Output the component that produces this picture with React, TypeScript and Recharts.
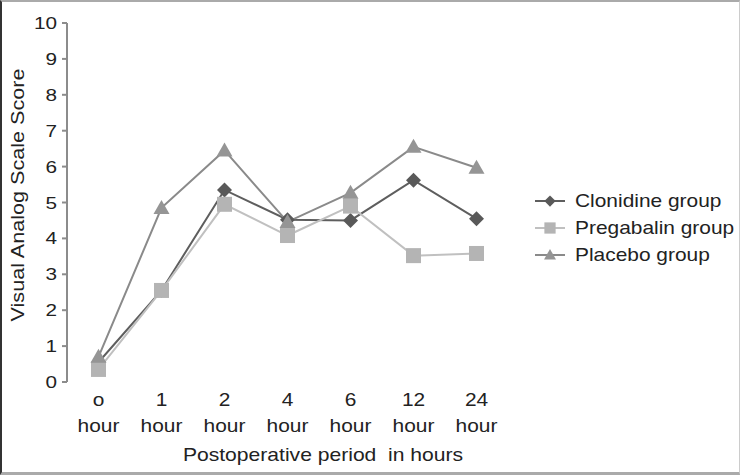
import React from 'react';
import { LineChart, Line, XAxis, YAxis } from 'recharts';

const hours = ['o', '1', '2', '4', '6', '12', '24'];
const clonidine = [0.55, 2.55, 5.35, 4.52, 4.5, 5.62, 4.55];
const pregabalin = [0.35, 2.55, 4.95, 4.08, 4.9, 3.52, 3.58];
const placebo = [0.7, 4.85, 6.45, 4.46, 5.27, 6.55, 5.97];
const yTicks = [0, 1, 2, 3, 4, 5, 6, 7, 8, 9, 10];

// points sit in the middle of each category slot
const data = hours.map((h, i) => ({
  x: i + 0.5,
  label: h,
  clonidine: clonidine[i],
  pregabalin: pregabalin[i],
  placebo: placebo[i],
}));

const FONT = '"Liberation Sans", Arial, sans-serif';
const AXIS = '#8c8c8c';
const TEXT = '#222';

const series = [
  { key: 'clonidine', name: 'Clonidine group', line: '#5e5e5e', fill: '#595959', shape: 'diamond' },
  { key: 'pregabalin', name: 'Pregabalin group', line: '#c0c0c0', fill: '#b4b4b4', shape: 'square' },
  { key: 'placebo', name: 'Placebo group', line: '#8a8a8a', fill: '#959595', shape: 'triangle' },
];

const marker = (shape: string, cx: number, cy: number, fill: string, s = 1) => {
  if (shape === 'diamond') {
    const r = 7.5 * s;
    return <path d={`M${cx},${cy - r}L${cx + r},${cy}L${cx},${cy + r}L${cx - r},${cy}Z`} fill={fill} />;
  }
  if (shape === 'square') {
    const r = 7.5 * s;
    return <rect x={cx - r} y={cy - r} width={2 * r} height={2 * r} fill={fill} />;
  }
  const w = 8 * s;
  return <path d={`M${cx},${cy - 8 * s}L${cx + w},${cy + 6 * s}L${cx - w},${cy + 6 * s}Z`} fill={fill} />;
};

const makeDot = (shape: string, fill: string) => (props: any) => {
  const { cx, cy, index } = props;
  return <g key={`${shape}-${index}`}>{marker(shape, cx, cy, fill)}</g>;
};

// the original text is stretched sideways, hence the scale
const HourTick = (props: any) => {
  const { x, y, payload } = props;
  const idx = Math.floor(payload.value);
  return (
    <g transform={`translate(${x},${y}) scale(1.13,1)`}>
      <text x={0} y={15.5} textAnchor="middle" fill={TEXT} fontSize={18.5} fontFamily={FONT}>
        {hours[idx]}
      </text>
      <text x={0} y={42} textAnchor="middle" fill={TEXT} fontSize={18.5} fontFamily={FONT}>
        hour
      </text>
    </g>
  );
};

const ScoreTick = (props: any) => {
  const { x, y, payload } = props;
  return (
    <g transform={`translate(${x},${y}) scale(1.22,1)`}>
      <text x={0} y={6} textAnchor="end" fill={TEXT} fontSize={17} fontFamily={FONT}>
        {payload.value}
      </text>
    </g>
  );
};

export default function App() {
  return (
    <div
      style={{
        position: 'absolute',
        left: 0,
        top: 0,
        width: 740,
        height: 475,
        background: '#fff',
        boxSizing: 'border-box',
        borderTop: '2px solid #aaa',
        borderLeft: '2px solid #333',
        borderRight: '1px solid #ccc',
        borderBottom: '3px solid #aaa',
        fontFamily: FONT,
      }}
    >
      <div style={{ position: 'absolute', left: -2, top: -2 }}>
        <LineChart width={740} height={475} data={data} margin={{ top: 23, right: 232, bottom: 33, left: 17 }}>
          <XAxis
            xAxisId="x"
            dataKey="x"
            type="number"
            domain={[0, 7]}
            ticks={[0, 1, 2, 3, 4, 5, 6, 7]}
            tick={false}
            height={0}
            stroke={AXIS}
            strokeWidth={2}
            tickSize={5}
          />
          <XAxis
            xAxisId="lab"
            dataKey="x"
            type="number"
            domain={[0, 7]}
            ticks={[0.5, 1.5, 2.5, 3.5, 4.5, 5.5, 6.5]}
            axisLine={false}
            tickLine={false}
            tick={<HourTick />}
            height={60}
            interval={0}
          />
          <YAxis
            type="number"
            domain={[0, 10]}
            ticks={yTicks}
            interval={0}
            width={50}
            stroke={AXIS}
            strokeWidth={2}
            tickSize={5}
            tickMargin={5}
            tick={<ScoreTick />}
          />
          {series.map((s) => (
            <Line
              key={s.key}
              xAxisId="x"
              dataKey={s.key}
              name={s.name}
              stroke={s.line}
              strokeWidth={2}
              dot={makeDot(s.shape, s.fill)}
              activeDot={false}
              isAnimationActive={false}
            />
          ))}
        </LineChart>
      </div>
      <div
        style={{
          position: 'absolute',
          left: 16,
          top: 193,
          transform: 'translate(-50%, -50%) rotate(-90deg) scaleX(1.2)',
          whiteSpace: 'nowrap',
          fontSize: 18,
          lineHeight: '20px',
          color: TEXT,
        }}
      >
        Visual Analog Scale Score
      </div>
      <div
        style={{
          position: 'absolute',
          left: 321,
          top: 443,
          transform: 'translateX(-50%) scaleX(1.11)',
          whiteSpace: 'pre',
          fontSize: 19,
          lineHeight: '20px',
          color: TEXT,
        }}
      >
        {'Postoperative period  in hours'}
      </div>
      <div style={{ position: 'absolute', left: 531, top: 185 }}>
        {series.map((s) => (
          <div key={s.key} style={{ display: 'flex', alignItems: 'center', height: 27 }}>
            <svg width={34} height={16} style={{ marginRight: 8 }}>
              <line x1={2} y1={8} x2={32} y2={8} stroke={s.line} strokeWidth={2} />
              {marker(s.shape, 17, 8, s.fill, 0.75)}
            </svg>
            <span
              style={{
                fontSize: 19,
                color: TEXT,
                whiteSpace: 'nowrap',
                display: 'inline-block',
                transform: 'scaleX(1.1)',
                transformOrigin: 'left center',
              }}
            >
              {s.name}
            </span>
          </div>
        ))}
      </div>
    </div>
  );
}
